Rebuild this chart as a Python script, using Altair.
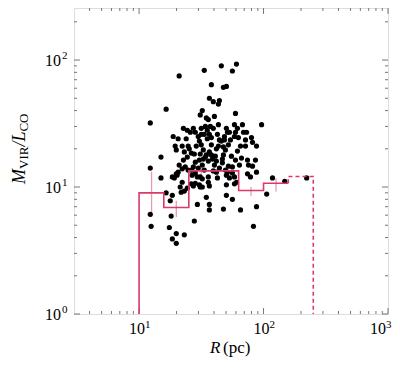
import altair as alt
import pandas as pd

# ---------------- data ----------------
R_pc = [21.0, 33.4, 45.8, 60.6, 56.2, 38.1, 47.6, 50.3, 36.7, 39.5, 44.2, 43.4, 16.5, 32.2, 31.0, 34.7, 36.0, 40.3, 59.5, 12.3, 96.4, 67.7, 58.4,
        34.1, 39.5, 36.7, 35.3, 38.1, 24.4, 25.8, 27.3, 23.9, 24.8, 25.3, 18.8, 20.6, 19.5, 28.8, 27.8, 26.3, 31.0, 32.8, 34.7, 38.1, 41.0, 38.8, 34.1, 36.0,
        45.8, 48.5, 50.3, 52.2, 47.6, 49.4, 47.6, 46.7, 54.2, 58.4, 59.5, 62.8, 71.6, 71.6, 61.7, 81.5, 87.8,
        15.0, 30.5, 28.3, 27.3, 26.3, 41.8, 46.7, 56.2, 49.4, 51.3,
        12.3, 22.2, 23.5, 24.8, 20.6, 19.9, 19.2, 18.5, 20.2, 15.0,
        26.7, 28.3, 29.4, 31.0, 32.2, 28.3, 30.5, 26.3, 27.3, 31.0,
        36.0, 36.0, 39.5, 41.8, 50.3, 56.2, 58.4, 60.6, 58.4,
        22.2, 21.4, 21.8, 23.1, 36.7, 50.3, 16.5, 18.5, 17.8, 29.4, 34.7, 36.7, 36.7, 50.3, 56.2,
        74.3, 78.5, 74.3, 75.7, 81.5, 86.1, 87.8,
        47.6, 65.3, 83.0, 87.8, 106, 118, 148, 222,
        12.3, 12.5, 18.1, 17.5, 19.9, 18.5, 19.9, 23.1, 27.8, 32.2, 24.4,
        28.3, 31.6, 35.3, 37.4, 42.6, 51.3, 48.5, 61.7, 73.0, 80.0,
        30.5, 31.6, 38.1, 44.2, 43.4, 19.9, 23.1, 32.2, 29.9, 40.3, 44.2,
        55.2, 59.5, 64.0, 66.5, 53.2, 42.6, 33.4, 24.4, 22.7, 21.0,
        65.3, 41.8, 29.9, 22.2, 69.0, 31.6, 53.2, 43.4, 22.7, 33.4, 36.7, 32.8, 52.2]

M_over_L = [75, 83, 90, 93, 82, 64, 61, 62, 50, 47, 48, 45, 41, 40, 37, 35, 34, 36, 38, 32, 31, 31, 31,
            30, 29, 26, 24, 24.5, 28, 27, 29, 24, 21, 20, 25, 24, 21, 21, 18.2, 18.5, 18.2, 19.6, 17.9, 17.9, 17.5, 16.6, 17.2, 16.0,
            23, 23.5, 29, 21.5, 20.7, 19.6, 17.9, 16.6, 23.5, 25, 27, 24.5, 23.5, 21, 19.2, 22.5, 21,
            17.2, 16.3, 15.7, 14.4, 13.6, 16.0, 15.5, 14.4, 13.6, 13.1,
            14.1, 13.9, 14.4, 13.6, 13.1, 12.7, 11.8, 12.0, 12.4, 11.8,
            12.4, 12.9, 12.0, 12.0, 11.6, 10.7, 10.4, 10.6, 10.2, 10.0,
            12.0, 10.9, 13.4, 13.1, 12.4, 12.9, 12.0, 10.9, 10.6,
            10.9, 10.0, 9.1, 9.3, 10.2, 10.4, 9.0, 8.6, 7.8, 7.3, 8.3, 7.3, 6.6, 8.6, 8.0,
            12.7, 12.0, 16.3, 14.9, 14.6, 16.3, 13.1,
            6.7, 6.6, 4.9, 7.0, 8.8, 11.8, 11.1, 11.8,
            6.1, 4.9, 5.9, 4.8, 4.3, 3.9, 3.6, 4.2, 5.4, 10.0, 9.8,
            27, 29, 28, 30, 26, 27, 25, 29, 27, 24.5,
            23, 21.5, 21.5, 23.5, 21, 19.6, 18.9, 14.9, 14.1, 14.9, 14.1,
            17.5, 16.3, 14.9, 16.9, 11.8, 11.8, 13.6, 17.2, 16.3, 14.9,
            21, 20, 25, 21, 27, 26, 27, 31, 29, 26, 18.9, 16.6, 14.6]

# binned median (step) line
bin_edges = [10, 15.8, 25.1, 39.8, 63.1, 100, 158, 251]
bin_levels = [9.0, 6.9, 13.4, 13.4, 9.4, 10.7, 12.1]
n_solid = 6          # last bin drawn dashed

# error bars at bin centres
err_R = [12.6, 19.9, 31.6, 50.1, 79.4, 126]
err_lo = [5.8, 5.8, 11.6, 11.8, 8.5, 9.2]
err_hi = [13.2, 7.8, 14.1, 13.6, 10.0, 11.7]

# axis ticks / labels
x_major = [10, 100]
x_major_exp = ["1", "2"]
x_edge = [1000]            # label at the right edge of the frame
x_edge_exp = ["3"]
x_minor = [4, 5, 6, 7, 8, 9, 20, 30, 40, 50, 60, 70, 80, 90,
           200, 300, 400, 500, 600, 700, 800, 900]
y_major = [1, 10, 100]
y_major_exp = ["0", "1", "2"]
y_minor = [2, 3, 4, 5, 6, 7, 8, 9, 20, 30, 40, 50, 60, 70, 80, 90, 200]

X_DOMAIN = [3, 1000]
Y_DOMAIN = [1, 257]
Y_FLOOR = 1

# ---------------- build tables ----------------
W, H = 314, 306
FONT = "Liberation Serif"
STEP_COLOR = "#D93A68"
ERR_COLOR = "#EA9BB2"
AX_COLOR = "#777777"

pts = pd.DataFrame({"R": R_pc, "ML": M_over_L})

solid_rows = [{"R": bin_edges[0], "ML": Y_FLOOR}]
for i in range(n_solid):
    solid_rows.append({"R": bin_edges[i], "ML": bin_levels[i]})
    solid_rows.append({"R": bin_edges[i + 1], "ML": bin_levels[i]})
for k, r in enumerate(solid_rows):
    r["i"] = k
solid = pd.DataFrame(solid_rows)

dash_rows = [{"R": bin_edges[n_solid], "ML": bin_levels[n_solid - 1]}]
for i in range(n_solid, len(bin_levels)):
    dash_rows.append({"R": bin_edges[i], "ML": bin_levels[i]})
    dash_rows.append({"R": bin_edges[i + 1], "ML": bin_levels[i]})
dash_rows.append({"R": bin_edges[-1], "ML": Y_FLOOR})
for k, r in enumerate(dash_rows):
    r["i"] = k
dashed = pd.DataFrame(dash_rows)

errs = pd.DataFrame({"R": err_R, "lo": err_lo, "hi": err_hi})

xs = alt.Scale(type="log", domain=X_DOMAIN, nice=False)
ys = alt.Scale(type="log", domain=Y_DOMAIN, nice=False)

X = lambda f="R": alt.X(f"{f}:Q", scale=xs, axis=None)
Y = lambda f="ML": alt.Y(f"{f}:Q", scale=ys, axis=None)

points = alt.Chart(pts).mark_circle(size=27, color="black", opacity=1).encode(x=X(), y=Y())

errbars = alt.Chart(errs).mark_rule(color=ERR_COLOR, strokeWidth=1.3).encode(
    x=X(), y=Y("lo"), y2="hi:Q")

step_solid = alt.Chart(solid).mark_line(color=STEP_COLOR, strokeWidth=1.6, interpolate="linear").encode(
    x=X(), y=Y(), order="i:Q")
step_dash = alt.Chart(dashed).mark_line(color=STEP_COLOR, strokeWidth=1.6, strokeDash=[4, 3]).encode(
    x=X(), y=Y(), order="i:Q")

# ticks (inward)
def xticks(vals, L):
    d = pd.DataFrame({"v": vals})
    b = alt.Chart(d).mark_rule(color=AX_COLOR, strokeWidth=1).encode(
        x=alt.X("v:Q", scale=xs, axis=None), y=alt.value(H), y2=alt.value(H - L))
    t = alt.Chart(d).mark_rule(color=AX_COLOR, strokeWidth=1).encode(
        x=alt.X("v:Q", scale=xs, axis=None), y=alt.value(0), y2=alt.value(L))
    return [b, t]

def yticks(vals, L):
    d = pd.DataFrame({"v": vals})
    l = alt.Chart(d).mark_rule(color=AX_COLOR, strokeWidth=1).encode(
        y=alt.Y("v:Q", scale=ys, axis=None), x=alt.value(0), x2=alt.value(L))
    r = alt.Chart(d).mark_rule(color=AX_COLOR, strokeWidth=1).encode(
        y=alt.Y("v:Q", scale=ys, axis=None), x=alt.value(W), x2=alt.value(W - L))
    return [l, r]

ticks = xticks(x_major + x_edge, 6) + xticks(x_minor, 3) + yticks(y_major, 6) + yticks(y_minor, 3)

# tick labels 10^n
def xlabels(vals, exps, dx):
    d = pd.DataFrame({"v": vals, "b": ["10"] * len(vals), "e": exps})
    b = alt.Chart(d).mark_text(align="right", baseline="alphabetic", dx=dx, font=FONT, fontSize=16, color="black").encode(
        x=alt.X("v:Q", scale=xs, axis=None), y=alt.value(326), text="b:N")
    e = alt.Chart(d).mark_text(align="left", baseline="alphabetic", dx=dx, font=FONT, fontSize=11, color="black").encode(
        x=alt.X("v:Q", scale=xs, axis=None), y=alt.value(320), text="e:N")
    return [b, e]

xlab = xlabels(x_major, x_major_exp, 6) + xlabels(x_edge, x_edge_exp, -2)

yl = pd.DataFrame({"v": y_major, "b": ["10"] * len(y_major), "e": y_major_exp})
ylab_b = alt.Chart(yl).mark_text(align="right", baseline="alphabetic", dy=5.5, font=FONT, fontSize=16, color="black").encode(
    y=alt.Y("v:Q", scale=ys, axis=None), x=alt.value(-13), text="b:N")
ylab_e = alt.Chart(yl).mark_text(align="left", baseline="alphabetic", dy=-1, font=FONT, fontSize=11, color="black").encode(
    y=alt.Y("v:Q", scale=ys, axis=None), x=alt.value(-12), text="e:N")

# axis titles (rich text pieces)
def piece(txt, x, y, size, style="normal", angle=0):
    return alt.Chart(alt.Data(values=[{"t": txt}])).mark_text(
        align="left", baseline="alphabetic", font=FONT, fontSize=size, fontStyle=style,
        angle=angle, color="black").encode(x=alt.value(x), y=alt.value(y), text="t:N")

ytitle = [
    piece("M", -49, 176, 18, "italic", 270),
    piece("VIR", -46, 161, 13, "normal", 270),
    piece("/L", -49, 138.6, 18, "italic", 270),
    piece("CO", -46, 123.6, 13, "normal", 270),
]
xtitle = [
    piece("R", 136, 345, 17, "italic"),
    piece("(pc)", 149, 345, 17, "normal"),
]

chart = alt.layer(
    *ticks, errbars, points, step_solid, step_dash,
    *xlab, ylab_b, ylab_e, *ytitle, *xtitle
).properties(
    width=W, height=H,
    autosize=alt.AutoSizeParams(type="none"),
    padding={"left": 66, "top": 0, "right": 4, "bottom": 48},
).configure_view(stroke=AX_COLOR, strokeWidth=1).configure(background="white")

chart.save("out.html", embed_options={"renderer": "svg", "actions": False})
